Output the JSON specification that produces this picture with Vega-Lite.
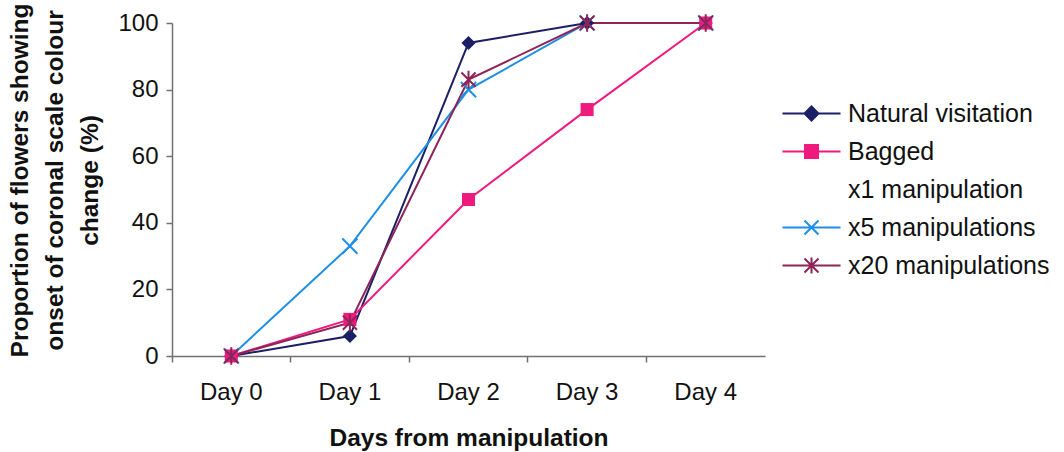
{
  "$schema": "https://vega.github.io/schema/vega-lite/v6.json",
  "width": 593,
  "height": 333,
  "autosize": "none",
  "padding": {"left": 172, "top": 23, "right": 299, "bottom": 96},
  "background": "white",
  "config": {
    "font": "Liberation Sans",
    "view": {"stroke": null},
    "axis": {
      "domainColor": "#707070",
      "domainWidth": 1.5,
      "tickColor": "#707070",
      "tickWidth": 1.5,
      "tickSize": 6,
      "grid": false,
      "labelColor": "#111111",
      "titleColor": "#111111"
    }
  },
  "data": {
    "values": [
      {"series": "x1 manipulation", "day": "Day 0", "pct": 0},
      {"series": "x1 manipulation", "day": "Day 1", "pct": 10},
      {"series": "x1 manipulation", "day": "Day 2", "pct": 81},
      {"series": "x1 manipulation", "day": "Day 3", "pct": 100},
      {"series": "x1 manipulation", "day": "Day 4", "pct": 100},
      {"series": "Natural visitation", "day": "Day 0", "pct": 0},
      {"series": "Natural visitation", "day": "Day 1", "pct": 6},
      {"series": "Natural visitation", "day": "Day 2", "pct": 94},
      {"series": "Natural visitation", "day": "Day 3", "pct": 100},
      {"series": "Natural visitation", "day": "Day 4", "pct": 100},
      {"series": "Bagged", "day": "Day 0", "pct": 0},
      {"series": "Bagged", "day": "Day 1", "pct": 11},
      {"series": "Bagged", "day": "Day 2", "pct": 47},
      {"series": "Bagged", "day": "Day 3", "pct": 74},
      {"series": "Bagged", "day": "Day 4", "pct": 100},
      {"series": "x5 manipulations", "day": "Day 0", "pct": 0},
      {"series": "x5 manipulations", "day": "Day 1", "pct": 33},
      {"series": "x5 manipulations", "day": "Day 2", "pct": 80},
      {"series": "x5 manipulations", "day": "Day 3", "pct": 100},
      {"series": "x5 manipulations", "day": "Day 4", "pct": 100},
      {"series": "x20 manipulations", "day": "Day 0", "pct": 0},
      {"series": "x20 manipulations", "day": "Day 1", "pct": 10},
      {"series": "x20 manipulations", "day": "Day 2", "pct": 83},
      {"series": "x20 manipulations", "day": "Day 3", "pct": 100},
      {"series": "x20 manipulations", "day": "Day 4", "pct": 100}
    ]
  },
  "encoding": {
    "x": {
      "field": "day",
      "type": "ordinal",
      "sort": ["Day 0", "Day 1", "Day 2", "Day 3", "Day 4"],
      "scale": {"type": "band", "paddingInner": 0, "paddingOuter": 0},
      "axis": {
        "title": "Days from manipulation",
        "labelAngle": 0,
        "labelFontSize": 24,
        "labelPadding": 18,
        "bandPosition": 0,
        "titleFontSize": 24.5,
        "titleFontWeight": "bold",
        "titlePadding": 22
      }
    },
    "y": {
      "field": "pct",
      "type": "quantitative",
      "scale": {"domain": [0, 100], "nice": false},
      "axis": {
        "values": [0, 20, 40, 60, 80, 100],
        "labelFontSize": 24,
        "labelPadding": 8,
        "title": ["Proportion of flowers showing", "onset of coronal scale colour", "change (%)"],
        "titleFontSize": 24.5,
        "titleFontWeight": "bold",
        "titleLineHeight": 35,
        "titleAngle": -90,
        "titleAlign": "center",
        "titleBaseline": "middle",
        "titleX": -152,
        "titleY": 157
      }
    }
  },
  "layer": [
    {
      "mark": {"type": "line", "strokeWidth": 2},
      "encoding": {
        "color": {
          "field": "series",
          "type": "nominal",
          "scale": {
            "domain": ["x1 manipulation", "Natural visitation", "Bagged", "x5 manipulations", "x20 manipulations"],
            "range": ["#ffffff", "#1b1f66", "#f0197d", "#1f8fe6", "#8e2358"]
          },
          "legend": null
        }
      }
    },
    {
      "transform": [{"filter": "datum.series === 'Natural visitation'"}],
      "mark": {"type": "point", "shape": "diamond", "filled": true, "size": 200, "color": "#1b1f66", "opacity": 1},
      "encoding": {}
    },
    {
      "transform": [{"filter": "datum.series === 'Bagged'"}],
      "mark": {"type": "point", "shape": "square", "filled": true, "size": 170, "color": "#f0197d", "opacity": 1},
      "encoding": {}
    },
    {
      "transform": [{"filter": "datum.series === 'x5 manipulations'"}],
      "mark": {"type": "point", "shape": "M-1,-1L1,1M-1,1L1,-1", "filled": false, "size": 230, "strokeWidth": 2, "color": "#1f8fe6", "opacity": 1},
      "encoding": {}
    },
    {
      "transform": [{"filter": "datum.series === 'x20 manipulations'"}],
      "mark": {"type": "point", "shape": "M-1,-1L1,1M-1,1L1,-1M0,-1.25L0,1.25", "filled": false, "size": 200, "strokeWidth": 2, "color": "#8e2358", "opacity": 1},
      "encoding": {}
    },
    {
      "mark": {"type": "point", "filled": true, "opacity": 0, "strokeWidth": 2},
      "encoding": {
        "shape": {
          "field": "series",
          "type": "nominal",
          "scale": {
            "domain": ["Natural visitation", "Bagged", "x1 manipulation", "x5 manipulations", "x20 manipulations"],
            "range": [
              "M-5.8,0H5.8M0,-1.4L1.4,0L0,1.4L-1.4,0Z",
              "M-5.8,0H5.8M-1.3,-1.3H1.3V1.3H-1.3Z",
              "M-0.1,0H0.1",
              "M-5.8,0H5.8M-1.4,-1.4L1.4,1.4M-1.4,1.4L1.4,-1.4",
              "M-5.8,0H5.8M-1.4,-1.4L1.4,1.4M-1.4,1.4L1.4,-1.4M0,-1.6V1.6"
            ]
          },
          "legend": {
            "title": null,
            "orient": "none",
            "legendX": 627,
            "legendY": 78,
            "padding": 0,
            "symbolSize": 100,
            "symbolStrokeWidth": 2,
            "symbolOpacity": 1,
            "labelFontSize": 25,
            "labelColor": "#111111",
            "labelOffset": 24,
            "labelLimit": 400,
            "rowPadding": 12
          }
        },
        "fill": {
          "field": "series",
          "type": "nominal",
          "scale": {
            "domain": ["Natural visitation", "Bagged", "x1 manipulation", "x5 manipulations", "x20 manipulations"],
            "range": ["#1b1f66", "#f0197d", "#ffffff", "#1f8fe6", "#8e2358"]
          }
        },
        "stroke": {
          "field": "series",
          "type": "nominal",
          "scale": {
            "domain": ["Natural visitation", "Bagged", "x1 manipulation", "x5 manipulations", "x20 manipulations"],
            "range": ["#1b1f66", "#f0197d", "#ffffff", "#1f8fe6", "#8e2358"]
          }
        }
      }
    }
  ]
}
